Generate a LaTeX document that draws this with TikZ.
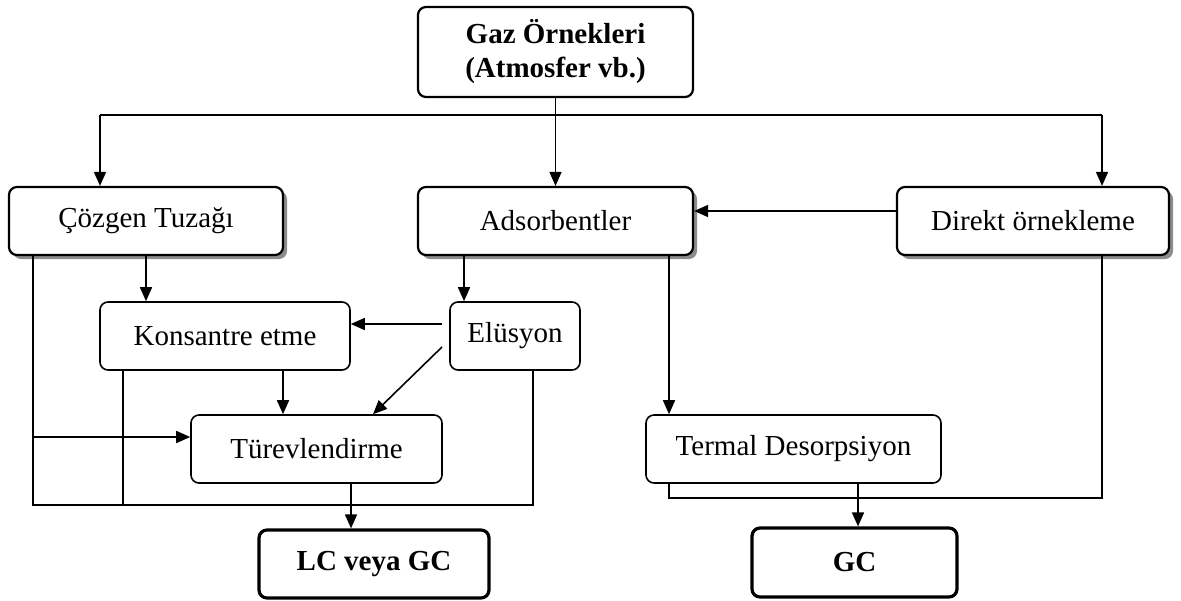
\documentclass[tikz,border=0pt]{standalone}
\usepackage{fontspec}
\setmainfont{Liberation Serif}
\usetikzlibrary{arrows.meta,shadows}

\begin{document}
\begin{tikzpicture}[x=0.5pt,y=-0.5pt,
  box/.style={draw,rounded corners=4pt,line width=0.8pt,fill=white,inner sep=0pt,
    font=\fontsize{14.5}{17}\selectfont,align=center},
  shbox/.style={box,line width=1.1pt,
    drop shadow={shadow xshift=2pt,shadow yshift=-2pt,fill=black!45,opacity=1}},
  endbox/.style={box,line width=1.6pt,font=\fontsize{14.5}{17}\selectfont\bfseries},
  arr/.style={line width=0.8pt,-{Triangle[length=7pt,width=6pt]}},
  line/.style={line width=0.8pt}]
  \useasboundingbox (0,0) rectangle (1181,600);

  % boxes
  \node[box,line width=1.1pt,font=\fontsize{14.5}{17}\selectfont\bfseries,
    minimum width=137.5pt,minimum height=45pt] (gaz) at (555.5,52)
    {Gaz Örnekleri\\(Atmosfer vb.)};
  \node[shbox,minimum width=137pt,minimum height=34pt] (coz) at (146,221) {Çözgen Tuzağı};
  \node[shbox,minimum width=137.5pt,minimum height=34pt] (ads) at (555.5,221) {Adsorbentler};
  \node[shbox,minimum width=136pt,minimum height=34pt] (dir) at (1033,221) {Direkt örnekleme};
  \node[box,minimum width=125pt,minimum height=34pt] (kon) at (225,336) {Konsantre etme};
  \node[box,minimum width=65pt,minimum height=34pt] (elu) at (515,336) {Elüsyon};
  \node[box,minimum width=125.5pt,minimum height=34pt] (tur) at (316.5,449) {Türevlendirme};
  \node[box,minimum width=147.5pt,minimum height=34pt] (ter) at (793.5,449) {Termal Desorpsiyon};
  \node[endbox,minimum width=115pt,minimum height=34pt] (lc) at (374,564) {LC veya GC};
  \node[endbox,minimum width=102.5pt,minimum height=34.5pt] (gc) at (854.5,562.5) {GC};

  % helper points
  \coordinate (busL) at (100,115);
  \coordinate (busR) at (1102,115);
  \coordinate (a1) at (464,0);
  \coordinate (a2) at (669,0);
  \coordinate (d1) at (0,211);
  \coordinate (e1) at (442,324);
  \coordinate (e2) at (442,347);
  \coordinate (e3) at (373,0);
  \coordinate (k1) at (123,505);
  \coordinate (k2) at (283,0);
  \coordinate (t1) at (33,437);
  \coordinate (bl) at (33,505);
  \coordinate (br) at (533,505);
  \coordinate (l1) at (351,0);
  \coordinate (g1) at (669,498);
  \coordinate (g2) at (1102,498);
  \coordinate (g3) at (858,0);

  % top distribution
  \draw[line] (busL) -- (busR);
  \draw[arr] (gaz.south) -- (ads.north);
  \draw[arr] (busL) -- (busL |- coz.north);
  \draw[arr] (busR) -- (busR |- dir.north);
  \draw[arr] (dir.west |- d1) -- (ads.east |- d1);

  % left branch
  \draw[arr] (coz.south) -- (coz.south |- kon.north);
  \draw[arr] (ads.south -| a1) -- (elu.north -| a1);
  \draw[arr] (e1) -- (e1 -| kon.east);
  \draw[arr] (e2) -- (tur.north -| e3);
  \draw[arr] (kon.south -| k2) -- (tur.north -| k2);
  \draw[line] (coz.south -| bl) -- (bl) -- (br) -- (elu.south -| br);
  \draw[line] (kon.south -| k1) -- (k1);
  \draw[arr] (t1) -- (t1 -| tur.west);
  \draw[arr] (tur.south -| l1) -- (lc.north -| l1);

  % right branch
  \draw[arr] (ads.south -| a2) -- (ter.north -| a2);
  \draw[line] (ter.south -| g1) -- (g1) -- (g2) -- (dir.south -| g2);
  \draw[arr] (ter.south -| g3) -- (gc.north -| g3);
\end{tikzpicture}
\end{document}
